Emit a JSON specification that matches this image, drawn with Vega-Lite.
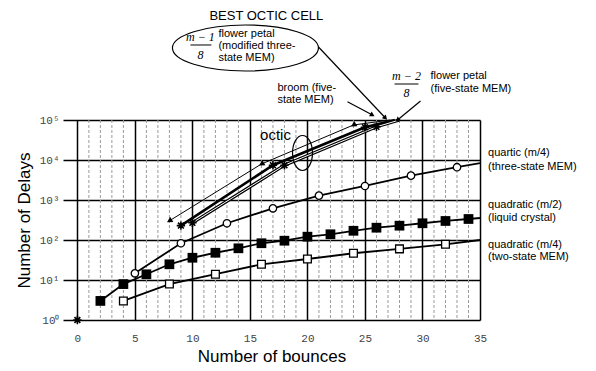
{
  "$schema": "https://vega.github.io/schema/vega-lite/v6.json",
  "width": 417,
  "height": 200,
  "autosize": {"type": "none"},
  "padding": {"left": 63, "top": 120, "right": 116, "bottom": 51},
  "background": "white",
  "config": {"view": {"stroke": null}},
  "datasets": {
    "minor": [
      {"x": 1}, {"x": 2}, {"x": 3}, {"x": 4}, {"x": 6}, {"x": 7}, {"x": 8}, {"x": 9},
      {"x": 11}, {"x": 12}, {"x": 13}, {"x": 14}, {"x": 16}, {"x": 17}, {"x": 18}, {"x": 19},
      {"x": 21}, {"x": 22}, {"x": 23}, {"x": 24}, {"x": 26}, {"x": 27}, {"x": 28}, {"x": 29},
      {"x": 31}, {"x": 32}, {"x": 33}, {"x": 34}
    ],
    "series": [
      {"s": "lc", "x": 2, "y": 3, "m": 1}, {"s": "lc", "x": 4, "y": 7.9, "m": 1}, {"s": "lc", "x": 6, "y": 13.9, "m": 1},
      {"s": "lc", "x": 8, "y": 24.7, "m": 1}, {"s": "lc", "x": 10, "y": 36, "m": 1}, {"s": "lc", "x": 12, "y": 48, "m": 1},
      {"s": "lc", "x": 14, "y": 62, "m": 1}, {"s": "lc", "x": 16, "y": 83, "m": 1}, {"s": "lc", "x": 18, "y": 96, "m": 1},
      {"s": "lc", "x": 20, "y": 121, "m": 1}, {"s": "lc", "x": 22, "y": 139, "m": 1}, {"s": "lc", "x": 24, "y": 170, "m": 1},
      {"s": "lc", "x": 26, "y": 203, "m": 1}, {"s": "lc", "x": 28, "y": 228, "m": 1}, {"s": "lc", "x": 30, "y": 262, "m": 1},
      {"s": "lc", "x": 32, "y": 299, "m": 1}, {"s": "lc", "x": 34, "y": 335, "m": 1}, {"s": "lc", "x": 35, "y": 355, "m": 0},
      {"s": "tw", "x": 4, "y": 3, "m": 1}, {"s": "tw", "x": 8, "y": 7.9, "m": 1}, {"s": "tw", "x": 12, "y": 14, "m": 1},
      {"s": "tw", "x": 16, "y": 24.7, "m": 1}, {"s": "tw", "x": 20, "y": 33.5, "m": 1}, {"s": "tw", "x": 24, "y": 46.6, "m": 1},
      {"s": "tw", "x": 28, "y": 60, "m": 1}, {"s": "tw", "x": 32, "y": 78, "m": 1}, {"s": "tw", "x": 35, "y": 100, "m": 0},
      {"s": "qt", "x": 5, "y": 14.7, "m": 1}, {"s": "qt", "x": 9, "y": 83, "m": 1}, {"s": "qt", "x": 13, "y": 262, "m": 1},
      {"s": "qt", "x": 17, "y": 620, "m": 1}, {"s": "qt", "x": 21, "y": 1290, "m": 1}, {"s": "qt", "x": 25, "y": 2240, "m": 1},
      {"s": "qt", "x": 29, "y": 4060, "m": 1}, {"s": "qt", "x": 33, "y": 6600, "m": 1}, {"s": "qt", "x": 35, "y": 8300, "m": 0},
      {"s": "A", "x": 8, "y": 302, "m": 1}, {"s": "A", "x": 16, "y": 7943, "m": 1}, {"s": "A", "x": 24, "y": 75000, "m": 1}, {"s": "A", "x": 27.2, "y": 100000, "m": 0},
      {"s": "B", "x": 9, "y": 229, "m": 1}, {"s": "B", "x": 17, "y": 7413, "m": 1}, {"s": "B", "x": 25, "y": 66000, "m": 1}, {"s": "B", "x": 27.6, "y": 100000, "m": 0},
      {"s": "C", "x": 10, "y": 269, "m": 1}, {"s": "C", "x": 18, "y": 7413, "m": 1}, {"s": "C", "x": 26, "y": 67600, "m": 1}, {"s": "C", "x": 28, "y": 100000, "m": 0},
      {"s": "O", "x": 0, "y": 1, "m": 1}
    ],
    "right": [
      {"x": 35.7, "y": 14962, "t": "quartic (m/4)"},
      {"x": 35.7, "y": 6683, "t": "(three-state MEM)"},
      {"x": 35.7, "y": 750, "t": "quadratic (m/2)"},
      {"x": 35.7, "y": 355, "t": "(liquid crystal)"},
      {"x": 35.7, "y": 75, "t": "quadratic (m/4)"},
      {"x": 35.7, "y": 37.6, "t": "(two-state MEM)"}
    ],
    "notes": [
      {"g": "left", "x": 12.26, "y": 14100000, "t": "flower petal"},
      {"g": "left", "x": 12.26, "y": 7080000, "t": "(modified three-"},
      {"g": "left", "x": 12.26, "y": 3550000, "t": "state MEM)"},
      {"g": "left", "x": 30.7, "y": 1260000, "t": "flower petal"},
      {"g": "left", "x": 30.7, "y": 596000, "t": "(five-state MEM)"},
      {"g": "left", "x": 17.39, "y": 631000, "t": "broom (five-"},
      {"g": "left", "x": 17.39, "y": 316000, "t": "state MEM)"},
      {"g": "frac", "x": 10.7, "y": 11900000, "t": "m − 1"},
      {"g": "frac", "x": 10.7, "y": 4220000, "t": "8"},
      {"g": "frac", "x": 28.61, "y": 1260000, "t": "m − 2"},
      {"g": "frac", "x": 28.61, "y": 473000, "t": "8"},
      {"g": "title", "x": 16.43, "y": 39800000, "t": "BEST OCTIC CELL"},
      {"g": "octic", "x": 17.22, "y": 42170, "t": "octic"}
    ],
    "bars": [
      {"x": 9.83, "x2": 11.65, "y": 7500000},
      {"x": 27.57, "x2": 29.65, "y": 794000}
    ],
    "arrows": [
      {"a": "m1", "x": 20.96, "y": 6680000, "x2": 26.78, "y2": 112000},
      {"a": "br", "x": 23.48, "y": 287000, "x2": 25.65, "y2": 133000},
      {"a": "m2", "x": 29.83, "y": 299000, "x2": 27.83, "y2": 100000}
    ],
    "shapes": [
      {"k": "big", "x": 14.61, "y": 6310000},
      {"k": "loop", "x": 19.57, "y": 14962}
    ]
  },
  "layer": [
    {
      "data": {"name": "minor"},
      "mark": {"type": "rule", "color": "#9a9a9a", "strokeWidth": 1, "strokeDash": [3, 2]},
      "encoding": {
        "x": {
          "field": "x", "type": "quantitative",
          "scale": {"domain": [-1.25, 35], "nice": false, "zero": false},
          "axis": {
            "values": [0, 5, 10, 15, 20, 25, 30, 35],
            "grid": true, "gridColor": "black", "gridWidth": 1.5,
            "domain": false, "ticks": false, "labelOverlap": false,
            "labelFont": "Liberation Mono", "labelFontSize": 11, "labelColor": "#444",
            "labelPadding": 12, "labelFlush": false,
            "title": "Number of bounces", "titleFont": "Liberation Sans", "titleFontSize": 17,
            "titleFontWeight": "normal", "titleColor": "black", "titlePadding": 5
          }
        }
      }
    },
    {
      "data": {"name": "series"},
      "transform": [{"filter": "datum.s == 'lc' || datum.s == 'tw' || datum.s == 'qt'"}],
      "mark": {"type": "line", "color": "black", "strokeWidth": 1.8},
      "encoding": {
        "x": {"field": "x", "type": "quantitative"},
        "y": {
          "field": "y", "type": "quantitative",
          "scale": {"type": "log", "domain": [1, 100000], "nice": false},
          "axis": {
            "values": [1, 10, 100, 1000, 10000, 100000],
            "labelExpr": "datum.value == 1 ? '10⁰' : datum.value == 10 ? '10¹' : datum.value == 100 ? '10²' : datum.value == 1000 ? '10³' : datum.value == 10000 ? '10⁴' : '10⁵'",
            "grid": true, "gridColor": "black", "gridWidth": 1.5,
            "domain": false, "ticks": false, "labelOverlap": false,
            "labelFont": "Liberation Mono", "labelFontSize": 11, "labelColor": "#444",
            "labelPadding": 4, "labelFlush": false,
            "title": "Number of Delays", "titleFont": "Liberation Sans", "titleFontSize": 17,
            "titleFontWeight": "normal", "titleColor": "black", "titlePadding": 6
          }
        },
        "detail": {"field": "s"}
      }
    },
    {
      "data": {"name": "series"},
      "transform": [{"filter": "datum.s == 'A'"}],
      "mark": {"type": "line", "color": "black", "strokeWidth": 1},
      "encoding": {"x": {"field": "x", "type": "quantitative"}, "y": {"field": "y", "type": "quantitative"}}
    },
    {
      "data": {"name": "series"},
      "transform": [{"filter": "datum.s == 'B'"}],
      "mark": {"type": "line", "color": "black", "strokeWidth": 2.6},
      "encoding": {"x": {"field": "x", "type": "quantitative"}, "y": {"field": "y", "type": "quantitative"}}
    },
    {
      "data": {"name": "series"},
      "transform": [{"filter": "datum.s == 'C'"}],
      "mark": {"type": "line", "color": "black", "strokeWidth": 3.2},
      "encoding": {"x": {"field": "x", "type": "quantitative"}, "y": {"field": "y", "type": "quantitative"}}
    },
    {
      "data": {"name": "series"},
      "transform": [{"filter": "datum.s == 'C'"}],
      "mark": {"type": "line", "color": "white", "strokeWidth": 1},
      "encoding": {"x": {"field": "x", "type": "quantitative"}, "y": {"field": "y", "type": "quantitative"}}
    },
    {
      "data": {"name": "series"},
      "transform": [{"filter": "datum.s == 'lc' && datum.m == 1"}],
      "mark": {"type": "point", "shape": "square", "filled": true, "color": "black", "size": 95, "opacity": 1},
      "encoding": {"x": {"field": "x", "type": "quantitative"}, "y": {"field": "y", "type": "quantitative"}}
    },
    {
      "data": {"name": "series"},
      "transform": [{"filter": "datum.s == 'tw' && datum.m == 1"}],
      "mark": {"type": "point", "shape": "square", "filled": true, "fill": "white", "stroke": "black", "strokeWidth": 1.3, "size": 60, "opacity": 1},
      "encoding": {"x": {"field": "x", "type": "quantitative"}, "y": {"field": "y", "type": "quantitative"}}
    },
    {
      "data": {"name": "series"},
      "transform": [{"filter": "datum.s == 'qt' && datum.m == 1"}],
      "mark": {"type": "point", "shape": "circle", "filled": true, "fill": "white", "stroke": "black", "strokeWidth": 1.3, "size": 55, "opacity": 1},
      "encoding": {"x": {"field": "x", "type": "quantitative"}, "y": {"field": "y", "type": "quantitative"}}
    },
    {
      "data": {"name": "series"},
      "transform": [{"filter": "datum.s == 'A' && datum.m == 1"}],
      "mark": {"type": "point", "shape": "triangle-up", "filled": true, "color": "black", "size": 40, "angle": 239, "opacity": 1},
      "encoding": {"x": {"field": "x", "type": "quantitative"}, "y": {"field": "y", "type": "quantitative"}}
    },
    {
      "data": {"name": "series"},
      "transform": [{"filter": "(datum.s == 'B' || datum.s == 'C' || datum.s == 'O') && datum.m == 1"}],
      "mark": {"type": "point", "shape": "M-1,0L1,0M0,-1L0,1M-0.7,-0.7L0.7,0.7M-0.7,0.7L0.7,-0.7", "filled": false, "stroke": "black", "strokeWidth": 1.6, "size": 70, "opacity": 1},
      "encoding": {"x": {"field": "x", "type": "quantitative"}, "y": {"field": "y", "type": "quantitative"}}
    },
    {
      "data": {"name": "right"},
      "mark": {"type": "text", "align": "left", "baseline": "middle", "font": "Liberation Sans", "fontSize": 11, "color": "black"},
      "encoding": {"x": {"field": "x", "type": "quantitative"}, "y": {"field": "y", "type": "quantitative"}, "text": {"field": "t"}}
    },
    {
      "data": {"name": "notes"},
      "transform": [{"filter": "datum.g == 'left'"}],
      "mark": {"type": "text", "align": "left", "baseline": "middle", "font": "Liberation Sans", "fontSize": 11, "color": "black"},
      "encoding": {"x": {"field": "x", "type": "quantitative"}, "y": {"field": "y", "type": "quantitative"}, "text": {"field": "t"}}
    },
    {
      "data": {"name": "notes"},
      "transform": [{"filter": "datum.g == 'frac'"}],
      "mark": {"type": "text", "align": "center", "baseline": "middle", "font": "Liberation Serif", "fontStyle": "italic", "fontSize": 12, "color": "black"},
      "encoding": {"x": {"field": "x", "type": "quantitative"}, "y": {"field": "y", "type": "quantitative"}, "text": {"field": "t"}}
    },
    {
      "data": {"name": "notes"},
      "transform": [{"filter": "datum.g == 'title'"}],
      "mark": {"type": "text", "align": "center", "baseline": "middle", "font": "Liberation Sans", "fontSize": 13, "color": "black"},
      "encoding": {"x": {"field": "x", "type": "quantitative"}, "y": {"field": "y", "type": "quantitative"}, "text": {"field": "t"}}
    },
    {
      "data": {"name": "notes"},
      "transform": [{"filter": "datum.g == 'octic'"}],
      "mark": {"type": "text", "align": "center", "baseline": "middle", "font": "Liberation Sans", "fontSize": 15, "color": "black"},
      "encoding": {"x": {"field": "x", "type": "quantitative"}, "y": {"field": "y", "type": "quantitative"}, "text": {"field": "t"}}
    },
    {
      "data": {"name": "bars"},
      "mark": {"type": "rule", "color": "black", "strokeWidth": 1},
      "encoding": {"x": {"field": "x", "type": "quantitative"}, "x2": {"field": "x2"}, "y": {"field": "y", "type": "quantitative"}}
    },
    {
      "data": {"name": "arrows"},
      "mark": {"type": "rule", "color": "black", "strokeWidth": 1.2},
      "encoding": {"x": {"field": "x", "type": "quantitative"}, "x2": {"field": "x2"}, "y": {"field": "y", "type": "quantitative"}, "y2": {"field": "y2"}}
    },
    {
      "data": {"name": "arrows"},
      "transform": [{"filter": "datum.a == 'm1'"}],
      "mark": {"type": "point", "shape": "triangle-up", "filled": true, "color": "black", "size": 30, "angle": 137, "opacity": 1},
      "encoding": {"x": {"field": "x2", "type": "quantitative"}, "y": {"field": "y2", "type": "quantitative"}}
    },
    {
      "data": {"name": "arrows"},
      "transform": [{"filter": "datum.a == 'br'"}],
      "mark": {"type": "point", "shape": "triangle-up", "filled": true, "color": "black", "size": 30, "angle": 118, "opacity": 1},
      "encoding": {"x": {"field": "x2", "type": "quantitative"}, "y": {"field": "y2", "type": "quantitative"}}
    },
    {
      "data": {"name": "arrows"},
      "transform": [{"filter": "datum.a == 'm2'"}],
      "mark": {"type": "point", "shape": "triangle-up", "filled": true, "color": "black", "size": 30, "angle": 230, "opacity": 1},
      "encoding": {"x": {"field": "x2", "type": "quantitative"}, "y": {"field": "y2", "type": "quantitative"}}
    },
    {
      "data": {"name": "shapes"},
      "transform": [{"filter": "datum.k == 'big'"}],
      "mark": {"type": "point", "shape": "M-1,0A1,0.315,0,1,1,1,0A1,0.315,0,1,1,-1,0Z", "filled": false, "stroke": "black", "strokeWidth": 1.2, "size": 21316, "opacity": 1},
      "encoding": {"x": {"field": "x", "type": "quantitative"}, "y": {"field": "y", "type": "quantitative"}}
    },
    {
      "data": {"name": "shapes"},
      "transform": [{"filter": "datum.k == 'loop'"}],
      "mark": {"type": "point", "shape": "M0,-1A0.57,1,0,1,1,0,1A0.57,1,0,1,1,0,-1Z", "filled": false, "stroke": "black", "strokeWidth": 1.2, "size": 1225, "opacity": 1},
      "encoding": {"x": {"field": "x", "type": "quantitative"}, "y": {"field": "y", "type": "quantitative"}}
    }
  ]
}
